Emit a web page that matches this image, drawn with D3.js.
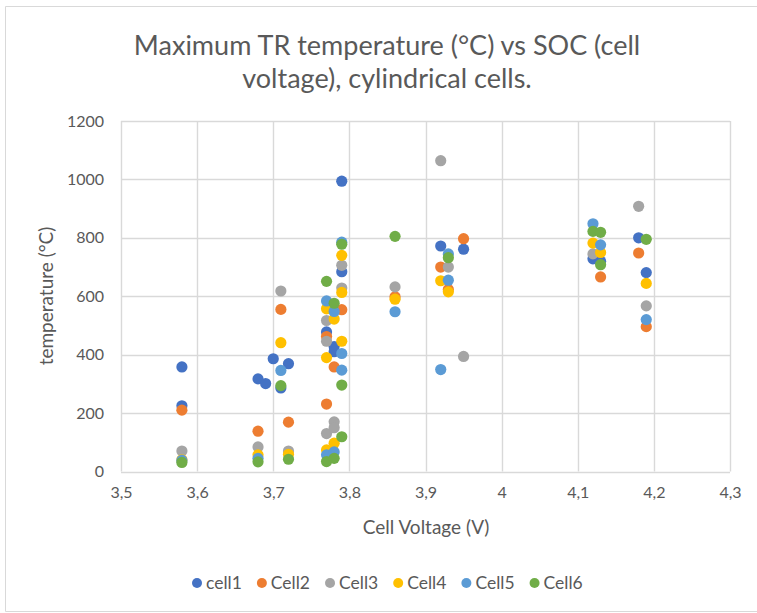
<!DOCTYPE html>
<html>
<head>
<meta charset="utf-8">
<script src="https://cdn.jsdelivr.net/npm/d3@7"></script>
<style>
  html, body { margin: 0; padding: 0; background: #fff; overflow: hidden; }
  svg { display: block; font-family: Lato, "Open Sans", sans-serif; }
</style>
</head>
<body>
<svg id="chart" width="757" height="613"></svg>
<script>
// Maximum thermal-runaway temperature per cell, [cell voltage (V), temperature (°C)]
const cell1 = [[3.58,358],[3.58,225],[3.68,317],[3.69,301],[3.70,386],[3.71,286],[3.72,369],
  [3.77,478],[3.78,428],[3.78,410],[3.79,684],[3.79,994],[3.92,772],[3.95,761],
  [4.12,728],[4.13,720],[4.18,800],[4.19,681]];
const cell2 = [[3.58,210],[3.68,138],[3.71,555],[3.72,169],[3.77,231],[3.77,462],[3.78,358],
  [3.79,554],[3.86,598],[3.92,700],[3.93,623],[3.95,797],[4.13,666],[4.18,748],[4.19,496]];
const cell3 = [[3.58,70],[3.68,84],[3.71,618],[3.72,70],[3.77,130],[3.77,446],[3.77,517],
  [3.78,170],[3.78,150],[3.79,628],[3.79,706],[3.86,632],[3.92,1064],[3.93,700],[3.95,394],
  [4.12,745],[4.18,908],[4.19,567]];
const cell4 = [[3.58,40],[3.68,57],[3.71,441],[3.72,59],[3.77,74],[3.77,390],[3.77,557],
  [3.78,97],[3.78,522],[3.79,446],[3.79,613],[3.79,740],[3.86,590],[3.92,653],[3.93,615],
  [4.12,782],[4.13,750],[4.19,644]];
const cell5 = [[3.58,38],[3.68,45],[3.71,346],[3.77,57],[3.77,584],[3.78,67],[3.78,548],
  [3.79,347],[3.79,404],[3.79,785],[3.86,547],[3.92,349],[3.93,745],[3.93,655],
  [4.12,848],[4.13,776],[4.19,520]];
const cell6 = [[3.58,31],[3.68,33],[3.71,294],[3.72,42],[3.77,34],[3.77,651],[3.78,45],
  [3.78,576],[3.79,119],[3.79,296],[3.79,778],[3.86,805],[3.93,732],[4.12,822],[4.13,819],
  [4.13,708],[4.19,795]];

const seriesNames = ["cell1", "Cell2", "Cell3", "Cell4", "Cell5", "Cell6"];
const seriesData = [cell1, cell2, cell3, cell4, cell5, cell6];
const seriesColors = ["#4472C4", "#ED7D31", "#A5A5A5", "#FFC000", "#5B9BD5", "#70AD47"];

const xTicks = [3.5, 3.6, 3.7, 3.8, 3.9, 4.0, 4.1, 4.2, 4.3];
const yTicks = [0, 200, 400, 600, 800, 1000, 1200];
const titleLines = ["Maximum TR temperature (°C) vs SOC (cell", "voltage), cylindrical cells."];
const xTitle = "Cell Voltage (V)";
const yTitle = "temperature (°C)";

const svg = d3.select("#chart");
const textColor = "#595959";
const gridColor = "#d9d9d9";

// chart frame: top, left and bottom edges (the right edge lies outside the view)
svg.append("path").attr("d", "M757,6.5H5.5V611.5H757")
  .attr("fill", "none").attr("stroke", gridColor).attr("stroke-width", 1);

const plot = { left: 121, right: 730, top: 121, bottom: 471.5 };
const x = d3.scaleLinear().domain([3.5, 4.3]).range([plot.left, plot.right]);
const y = d3.scaleLinear().domain([0, 1200]).range([plot.bottom, plot.top]);

// gridlines
const g = svg.append("g");
g.selectAll("line.h").data(yTicks).join("line")
  .attr("x1", plot.left).attr("x2", plot.right)
  .attr("y1", d => Math.round(y(d)) + 0.5).attr("y2", d => Math.round(y(d)) + 0.5)
  .attr("stroke", gridColor).attr("stroke-width", 1.4);
g.selectAll("line.v").data(xTicks).join("line")
  .attr("y1", plot.top).attr("y2", plot.bottom)
  .attr("x1", d => Math.round(x(d)) + 0.5).attr("x2", d => Math.round(x(d)) + 0.5)
  .attr("stroke", gridColor).attr("stroke-width", 1.4);

// axes (labels only; lines come from the grid)
const fmtX = d => d3.format(".1f")(d).replace(/\.0$/, "").replace(".", ",");
const xAxis = d3.axisBottom(x).tickValues(xTicks).tickFormat(fmtX).tickSize(0).tickPadding(15);
const yAxis = d3.axisLeft(y).tickValues(yTicks).tickFormat(d3.format("d")).tickSize(0).tickPadding(17);
const gx = svg.append("g").attr("transform", `translate(0,${plot.bottom})`).call(xAxis);
const gy = svg.append("g").attr("transform", `translate(${plot.left},0)`).call(yAxis);
[gx, gy].forEach(a => {
  a.select(".domain").remove();
  a.selectAll("text").attr("fill", textColor).style("font-size", "16px")
    .style("font-family", "Lato, 'Open Sans', sans-serif");
});

// markers
seriesData.forEach((data, i) => {
  svg.append("g").selectAll("circle").data(data).join("circle")
    .attr("cx", d => x(d[0])).attr("cy", d => y(d[1])).attr("r", 5.6)
    .attr("fill", seriesColors[i]);
});

// title
svg.append("text").attr("x", 387).attr("y", 55).attr("text-anchor", "middle")
  .attr("fill", textColor).style("font-size", "27px").text(titleLines[0]);
svg.append("text").attr("x", 387).attr("y", 88).attr("text-anchor", "middle")
  .attr("fill", textColor).style("font-size", "27px").text(titleLines[1]);

// axis titles
svg.append("text").attr("x", 426).attr("y", 534).attr("text-anchor", "middle")
  .attr("fill", textColor).style("font-size", "19px").text(xTitle);
svg.append("text").attr("transform", "translate(53,296) rotate(-90)").attr("text-anchor", "middle")
  .attr("fill", textColor).style("font-size", "19px").text(yTitle);

// legend
const leg = svg.append("g");
let lx = 192;
seriesNames.forEach((name, i) => {
  leg.append("circle").attr("cx", lx + 5).attr("cy", 583).attr("r", 5).attr("fill", seriesColors[i]);
  const t = leg.append("text").attr("x", lx + 14).attr("y", 589).attr("fill", textColor)
    .style("font-size", "17.5px").text(name);
  lx += 14 + t.node().getComputedTextLength() + 15;
});
</script>
</body>
</html>
